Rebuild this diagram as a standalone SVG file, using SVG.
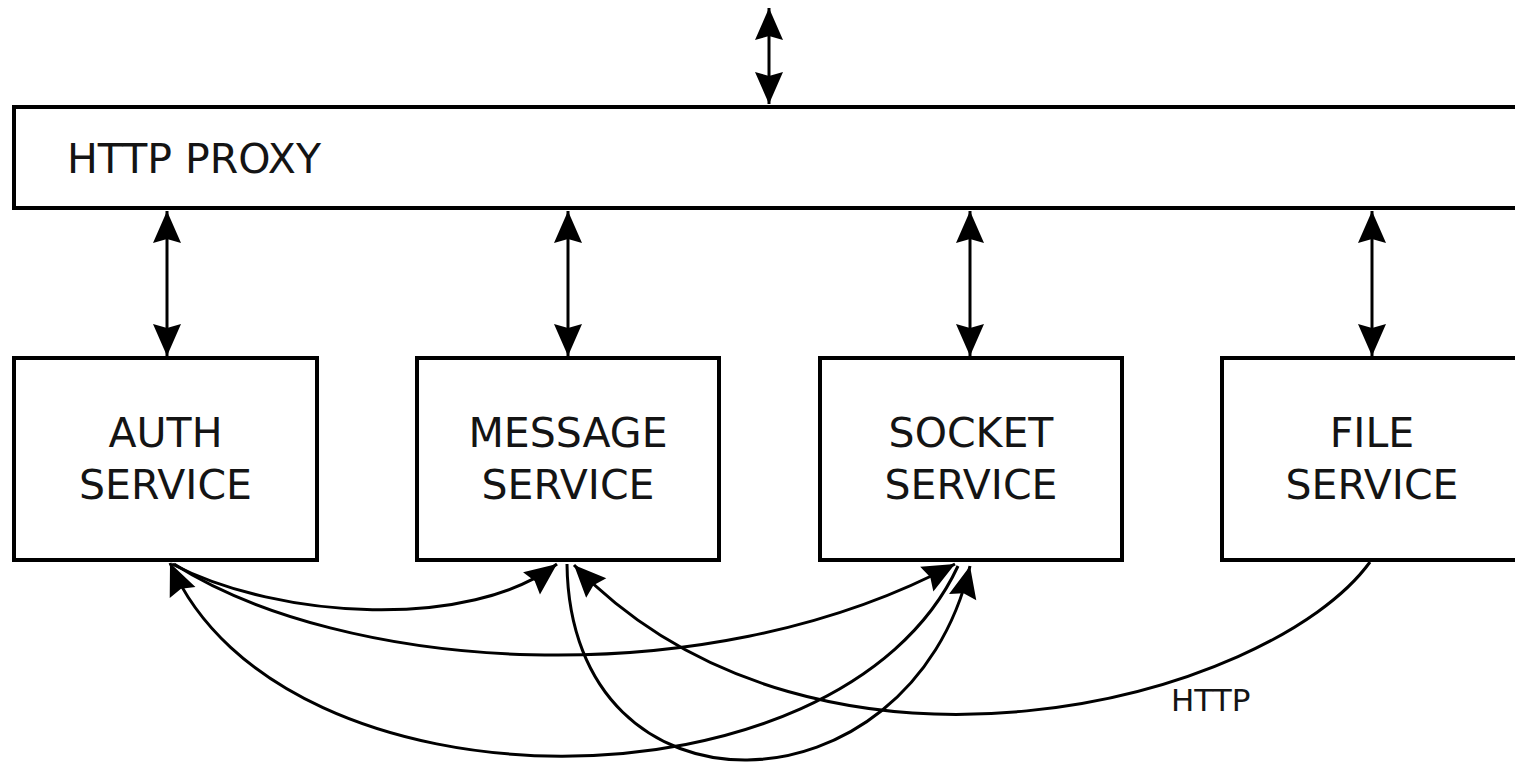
<svg xmlns="http://www.w3.org/2000/svg" width="1515" height="764" viewBox="0 0 1515 764">
  <style>
    .box { fill: #ffffff; stroke: #000000; stroke-width: 4; }
    .label { font-family: "DejaVu Sans", "Liberation Sans", sans-serif; font-size: 41px; fill: #141414; }
    .small { font-family: "DejaVu Sans", "Liberation Sans", sans-serif; font-size: 31px; fill: #141414; }
    .link { fill: none; stroke: #000000; stroke-width: 3; }
  </style>
  <defs>
    <marker id="head" viewBox="-34 -16 36 32" refX="0" refY="0" markerWidth="36" markerHeight="32" markerUnits="userSpaceOnUse" orient="auto-start-reverse">
      <path d="M0,0 L-32,-14 L-28,0 L-32,14 Z" fill="#000000"/>
    </marker>
  </defs>

  <rect width="1515" height="764" fill="#ffffff"/>

  <!-- proxy bar, runs off the right edge -->
  <g id="proxy">
    <rect class="box" x="14" y="107" width="1530" height="101"/>
    <text class="label" x="67" y="173">HTTP PROXY</text>
  </g>

  <g id="auth">
    <rect class="box" x="14" y="358" width="303" height="202"/>
    <text class="label" x="165.5" y="447" text-anchor="middle">AUTH</text>
    <text class="label" x="165.5" y="499" text-anchor="middle">SERVICE</text>
  </g>

  <g id="message">
    <rect class="box" x="417" y="358" width="302" height="202"/>
    <text class="label" x="568" y="447" text-anchor="middle">MESSAGE</text>
    <text class="label" x="568" y="499" text-anchor="middle">SERVICE</text>
  </g>

  <g id="socket">
    <rect class="box" x="820" y="358" width="302" height="202"/>
    <text class="label" x="971" y="447" text-anchor="middle">SOCKET</text>
    <text class="label" x="971" y="499" text-anchor="middle">SERVICE</text>
  </g>

  <g id="file">
    <rect class="box" x="1222" y="358" width="320" height="202"/>
    <text class="label" x="1372" y="447" text-anchor="middle">FILE</text>
    <text class="label" x="1372" y="499" text-anchor="middle">SERVICE</text>
  </g>

  <g id="connectors">
    <!-- external entry into the proxy -->
    <line class="link" x1="769" y1="8" x2="769" y2="104" marker-start="url(#head)" marker-end="url(#head)"/>
    <!-- proxy to each service -->
    <line class="link" x1="167" y1="211" x2="167" y2="356" marker-start="url(#head)" marker-end="url(#head)"/>
    <line class="link" x1="568" y1="211" x2="568" y2="356" marker-start="url(#head)" marker-end="url(#head)"/>
    <line class="link" x1="970" y1="211" x2="970" y2="356" marker-start="url(#head)" marker-end="url(#head)"/>
    <line class="link" x1="1372" y1="211" x2="1372" y2="356" marker-start="url(#head)" marker-end="url(#head)"/>

    <!-- service to service -->
    <path class="link" d="M172,564 C280,620 470,630 557,564" marker-end="url(#head)"/>
    <path class="link" d="M174,564 C340,670 700,700 955,564" marker-end="url(#head)"/>
    <path class="link" d="M170,563 C280,820 840,820 958,566" marker-start="url(#head)"/>
    <path class="link" d="M567,564 C570,830 910,820 970,566" marker-end="url(#head)"/>
    <path class="link" d="M1370,562 C1270,700 820,820 574,565" marker-end="url(#head)"/>
    <text class="small" x="1171" y="711">HTTP</text>
  </g>
</svg>
